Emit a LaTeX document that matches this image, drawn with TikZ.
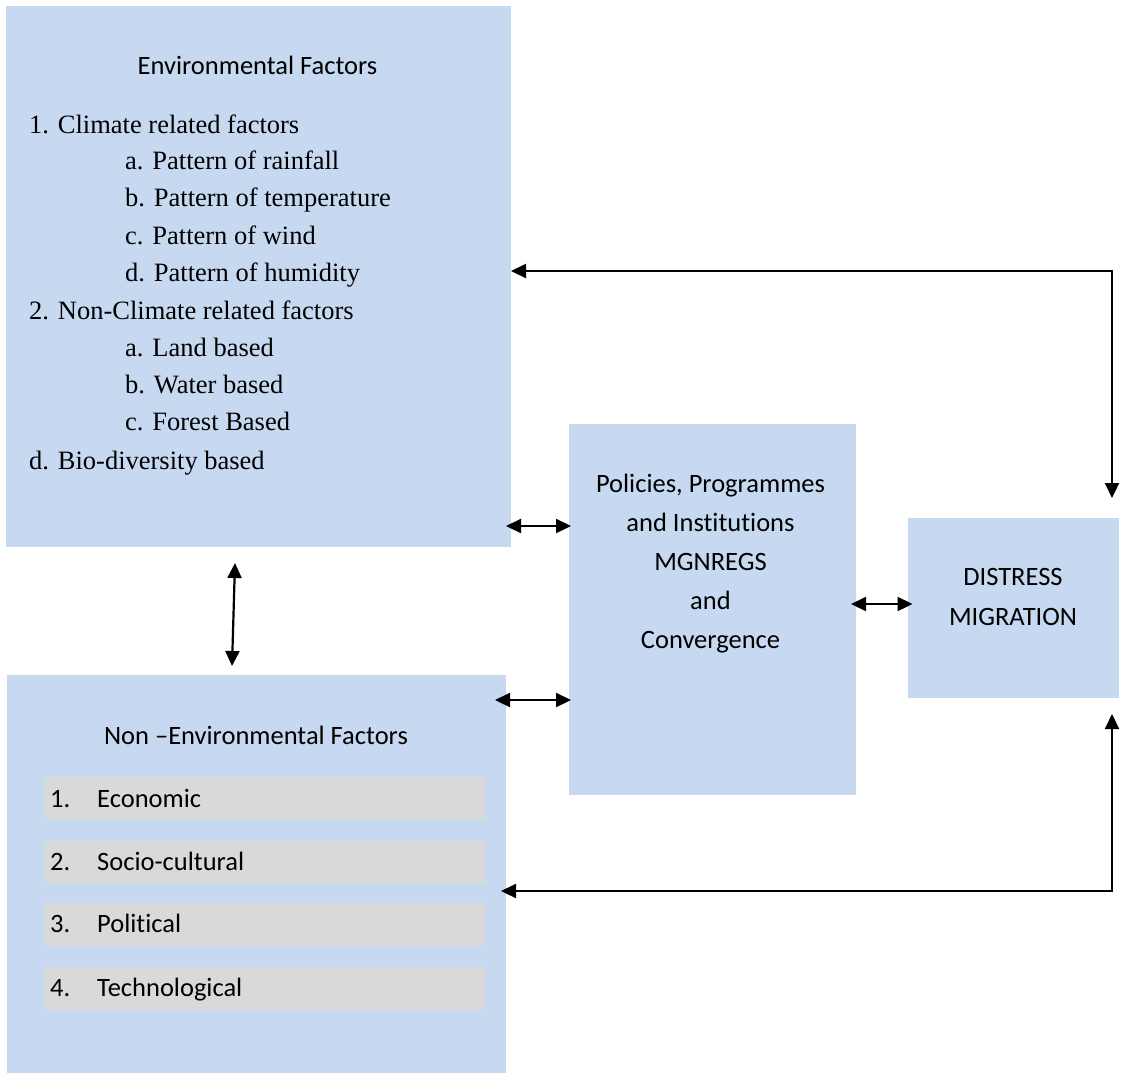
\documentclass[tikz,border=0pt]{standalone}
\usepackage{fontspec}
\setmainfont{Liberation Serif}
\newfontfamily\calibrifont[Ligatures=NoCommon]{Carlito}
\usetikzlibrary{arrows.meta}
\definecolor{boxblue}{HTML}{C6D9F1}
\definecolor{bargray}{HTML}{D9D9D9}
\begin{document}
\begin{tikzpicture}[x=1pt,y=-1pt,
  box/.style={rectangle, fill=boxblue, draw=none, inner sep=0pt, outer sep=0pt},
  bar/.style={rectangle, fill=bargray, draw=none, inner sep=0pt, outer sep=0pt, minimum width=440pt, minimum height=43pt},
  sanstxt/.style={font=\calibrifont\fontsize{26.5}{30}\selectfont, inner sep=0pt, anchor=base},
  sanslft/.style={font=\calibrifont\fontsize{26.5}{30}\selectfont, inner sep=0pt, anchor=base west},
  seriftxt/.style={font=\fontsize{26.5}{30}\selectfont, inner sep=0pt, anchor=base west},
  link/.style={{Triangle[length=15pt,width=14pt]}-{Triangle[length=15pt,width=14pt]}, line width=2.2pt}]
\useasboundingbox (0,0) rectangle (1126,1074);
% boxes
\node[box, minimum width=505pt, minimum height=541pt] (env) at (258.5,276.5) {};
\node[box, minimum width=499pt, minimum height=398pt] (nonenv) at (256.5,874) {};
\node[box, minimum width=287pt, minimum height=371pt] (pol) at (712.5,609.5) {};
\node[box, minimum width=211pt, minimum height=180pt] (dist) at (1013.5,608) {};
% gray bars
\node[bar] (b1) at (265,798.5) {};
\node[bar] (b2) at (265,862) {};
\node[bar] (b3) at (265,924) {};
\node[bar] (b4) at (265,988) {};
% environmental text
\node[sanstxt] (envt) at (257.5,74) {Environmental Factors};
\node[seriftxt] (e1) at (29,133) {1. Climate related factors};
\node[seriftxt] (e1a) at (125,169) {a. Pattern of rainfall};
\node[seriftxt] (e1b) at (125,206) {b. Pattern of temperature};
\node[seriftxt] (e1c) at (125,244) {c. Pattern of wind};
\node[seriftxt] (e1d) at (125,281) {d. Pattern of humidity};
\node[seriftxt] (e2) at (29,319) {2. Non-Climate related factors};
\node[seriftxt] (e2a) at (125,356) {a. Land based};
\node[seriftxt] (e2b) at (125,393) {b. Water based};
\node[seriftxt] (e2c) at (125,430) {c. Forest Based};
\node[seriftxt] (e2d) at (29,469) {d. Bio-diversity based};
% policies text
\node[sanstxt] (p1) at (710.5,492) {Policies, Programmes};
\node[sanstxt] (p2) at (710.5,531) {and Institutions};
\node[sanstxt] (p3) at (710.5,570) {MGNREGS};
\node[sanstxt] (p4) at (710.5,609) {and};
\node[sanstxt] (p5) at (710.5,648) {Convergence};
% distress text
\node[sanstxt] (d1) at (1013,585.5) {DISTRESS};
\node[sanstxt] (d2) at (1013,625.5) {MIGRATION};
% non-environmental text
\node[sanstxt] (nt) at (256,744) {Non –Environmental Factors};
\node[sanslft] (n1) at (50,807) {1.};
\node[sanslft] (n1t) at (97,807) {Economic};
\node[sanslft] (n2) at (50,870.5) {2.};
\node[sanslft] (n2t) at (97,870.5) {Socio-cultural};
\node[sanslft] (n3) at (50,932.5) {3.};
\node[sanslft] (n3t) at (97,932.5) {Political};
\node[sanslft] (n4) at (50,996.5) {4.};
\node[sanslft] (n4t) at (97,996.5) {Technological};
% connectors
\draw[link, shorten <=-5pt, shorten >=-2pt] (env.east |- 0,526) -- (pol.west |- 0,526);
\draw[link, shorten <=-11pt, shorten >=-2pt] (nonenv.east |- 0,700) -- (pol.west |- 0,700);
\draw[link, shorten <=-5pt, shorten >=-4.5pt] (pol.east |- 0,604) -- (dist.west |- 0,604);
\draw[link] ([xshift=-23.5pt,yshift=-16pt]env.south) -- ([xshift=-24.5pt,yshift=9pt]nonenv.north);
\draw[link] (env.east |- 0,271) -| ([xshift=98.5pt,yshift=20pt]dist.north);
\draw[link, shorten >=-5pt] ([xshift=98.5pt,yshift=-16pt]dist.south) |- (nonenv.east |- 0,891);
\end{tikzpicture}
\end{document}
